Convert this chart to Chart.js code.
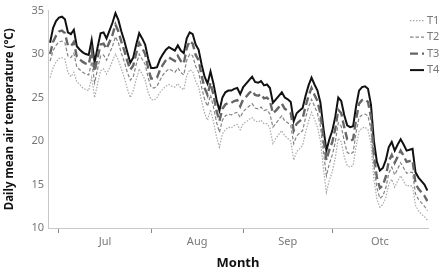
<!DOCTYPE html>
<html><head><meta charset="utf-8">
<script src="https://cdn.jsdelivr.net/npm/chart.js@4/dist/chart.umd.min.js"></script>
<style>html,body{margin:0;padding:0;background:#fff}#wrap{width:445px;height:271px;position:relative}</style>
</head><body><div id="wrap"><canvas id="c" width="445" height="271"></canvas></div>
<script>
const seriesNames = ['T1','T2','T3','T4'];
const T4 = [31.3,33.0,33.8,34.2,34.3,34.0,32.5,32.3,32.8,30.9,30.5,30.2,30.0,29.9,31.6,29.0,30.8,32.4,32.5,31.8,32.7,33.6,34.7,33.9,32.6,31.5,30.2,29.0,29.6,31.1,32.4,31.8,31.1,29.5,28.4,28.4,28.5,29.4,30.0,30.5,30.8,30.6,30.4,31.0,30.4,30.1,31.8,32.5,32.3,31.1,30.5,28.8,27.4,26.6,28.0,26.6,24.8,23.5,25.0,25.6,25.8,25.8,26.0,26.1,25.4,26.2,26.6,27.0,27.4,26.8,26.7,26.9,26.4,26.5,26.1,24.4,24.8,25.2,25.6,25.0,24.8,24.5,22.3,23.2,23.5,23.8,25.2,26.4,27.3,26.5,25.8,24.4,21.5,18.9,20.2,21.2,22.8,25.0,24.6,23.0,21.8,21.6,21.7,24.0,25.8,26.2,26.3,26.0,24.2,20.0,17.6,16.6,16.9,17.8,19.3,19.9,18.9,19.6,20.2,19.6,18.9,19.0,19.1,16.4,15.8,15.4,15.0,14.3];
const T3 = [30.0,31.4,32.1,32.6,32.7,32.4,31.0,30.9,31.4,29.7,29.4,29.1,28.9,28.8,30.4,28.0,29.6,31.1,31.2,30.6,31.4,32.2,33.4,32.6,31.4,30.4,29.2,28.2,28.7,30.1,31.3,30.7,30.0,28.4,27.2,27.2,27.3,28.2,28.8,29.3,29.6,29.4,29.2,29.8,29.2,28.9,30.7,31.5,31.2,29.9,29.3,27.5,26.1,25.3,26.7,25.3,23.5,22.3,23.7,24.2,24.4,24.4,24.6,24.7,24.0,24.8,25.1,25.5,25.8,25.3,25.2,25.4,24.9,25.0,24.6,23.2,23.5,23.9,24.3,23.7,23.5,23.2,21.2,22.0,22.3,22.6,24.0,25.2,26.1,25.3,24.6,23.1,20.3,17.8,19.0,19.9,21.4,23.6,23.2,21.6,20.2,20.0,20.2,22.5,24.3,24.7,24.8,24.5,22.8,18.4,15.8,14.6,14.9,15.9,17.7,18.4,17.5,18.2,18.9,18.3,17.6,17.7,17.8,15.1,14.5,14.1,13.7,13.1];
const T2 = [29.2,30.4,31.0,31.4,31.5,31.3,29.8,29.6,30.1,28.5,28.2,27.9,27.7,27.6,29.1,26.7,28.3,29.8,29.9,29.3,30.1,30.9,32.0,31.3,30.1,29.1,27.9,27.0,27.4,28.8,30.0,29.4,28.8,27.3,26.2,26.1,26.3,27.0,27.6,28.0,28.3,28.1,27.9,28.4,27.9,27.6,29.3,30.0,29.8,28.6,27.9,26.2,24.8,24.0,25.3,23.9,22.2,21.0,22.4,22.9,23.1,23.0,23.2,23.3,22.7,23.4,23.7,24.0,24.3,23.8,23.7,23.9,23.5,23.6,23.1,21.6,22.0,22.5,22.9,22.3,22.1,21.8,19.7,20.6,20.9,21.2,22.7,23.9,24.8,24.0,23.2,21.7,18.8,16.0,17.4,18.4,19.9,22.1,21.7,20.0,18.7,18.5,18.7,21.0,22.7,23.0,23.1,22.9,21.3,17.2,14.6,13.4,13.7,14.6,16.3,17.0,16.1,16.8,17.5,16.9,16.3,16.4,16.4,13.9,13.3,12.9,12.5,12.0];
const T1 = [27.3,28.4,29.1,29.5,29.6,29.4,27.9,27.4,27.9,26.8,26.5,26.1,25.9,25.8,27.3,25.0,26.6,28.1,28.3,27.7,28.4,29.2,30.0,29.3,28.3,27.3,26.0,25.0,25.8,27.1,28.3,27.7,27.0,25.6,24.8,24.7,25.0,25.6,26.0,26.3,26.5,26.3,26.2,26.6,26.1,25.9,27.5,28.2,28.0,26.9,26.2,24.6,23.2,22.4,23.6,22.2,20.5,19.3,20.8,21.3,21.6,21.5,21.8,21.9,21.3,22.0,22.2,22.5,22.7,22.3,22.2,22.4,22.0,22.0,21.5,19.7,20.3,20.8,21.2,20.6,20.3,20.0,17.8,18.8,19.1,19.5,21.0,22.3,23.3,22.5,21.6,20.0,16.8,14.1,15.5,16.5,18.1,20.3,19.9,18.2,17.2,17.0,17.2,19.4,21.1,21.5,21.6,21.3,19.7,15.6,13.3,12.4,12.7,13.5,15.0,15.6,14.7,15.4,16.0,15.4,14.8,14.9,14.8,12.6,12.0,11.6,11.3,10.9];
const monthLabels = ['Jul','Aug','Sep','Otc'];
const monthBoundaries = [3,34,65,95];
const monthCenters = [18.5,49.5,80,111];
const yTicks = [10,15,20,25,30,35];

const days = T4.map((_,i)=>i);
const toPts = arr => arr.map((v,i)=>({x:days[i], y:v}));
const styles = [
  {borderColor:'#a8a8a8', borderWidth:1.2, borderDash:[1.5,1.5]},
  {borderColor:'#858585', borderWidth:1.2, borderDash:[3.5,2]},
  {borderColor:'#666666', borderWidth:2.4, borderDash:[8,4]},
  {borderColor:'#111111', borderWidth:2, borderDash:[]}
];
const allSeries = [T1,T2,T3,T4];
const datasets = allSeries.map((s,k)=>Object.assign({label:seriesNames[k], data:toPts(s), pointRadius:0, tension:0, fill:false}, styles[k]));

const legendPlugin = {
  id:'customLegend',
  afterDraw(chart){
    const ctx = chart.ctx, ca = chart.chartArea;
    const x0 = ca.right - 18, y0 = ca.top + 10, step = 16.5;
    ctx.save();
    ctx.font = '11px "Noto Sans", sans-serif';
    ctx.textBaseline = 'middle';
    chart.data.datasets.forEach((ds,k)=>{
      const y = y0 + k*step;
      ctx.beginPath();
      ctx.strokeStyle = ds.borderColor;
      ctx.lineWidth = ds.borderWidth;
      ctx.setLineDash(ds.borderDash && ds.borderDash.length ? ds.borderDash : []);
      ctx.moveTo(x0, y); ctx.lineTo(x0+14, y); ctx.stroke();
      ctx.setLineDash([]);
      ctx.fillStyle = '#777';
      ctx.fillText(ds.label, x0+17, y);
    });
    ctx.restore();
  }
};

Chart.defaults.font.family = '"Noto Sans", sans-serif';
new Chart(document.getElementById('c'), {
  type:'line',
  data:{datasets},
  options:{
    responsive:false, animation:false,
    layout:{padding:{left:3,right:17,top:9,bottom:0}},
    plugins:{legend:{display:false}, tooltip:{enabled:false}},
    scales:{
      x:{
        type:'linear', min:-0.7, max:127.2,
        afterBuildTicks(scale){
          const t = [];
          monthBoundaries.forEach(v=>t.push({value:v}));
          monthCenters.forEach(v=>t.push({value:v}));
          t.sort((a,b)=>a.value-b.value);
          scale.ticks = t;
        },
        afterFit(scale){ scale.height = 43; },
        ticks:{autoSkip:false, maxRotation:0, padding:2, color:'#777', font:{size:11},
          callback(v){ const k = monthCenters.indexOf(v); return k>=0 ? monthLabels[k] : ''; }},
        grid:{display:true, drawOnChartArea:false, drawTicks:true, tickLength:5, tickWidth:1,
          tickColor(ctx){ return (ctx.tick && monthBoundaries.includes(ctx.tick.value)) ? '#888' : 'rgba(0,0,0,0)'; }},
        border:{display:true, color:'#c8c8c8', width:1},
        title:{display:true, text:'Month', color:'#111', font:{size:13, weight:'bold'}, padding:{top:0,bottom:0}}
      },
      y:{
        min:10, max:35,
        afterBuildTicks(scale){ scale.ticks = yTicks.map(v=>({value:v})); },
        afterFit(scale){ scale.width = 45; },
        ticks:{color:'#777', font:{size:11}, padding:4},
        grid:{display:false, drawTicks:false},
        border:{display:true, color:'#c8c8c8', width:1},
        title:{display:true, text:'Daily mean air temperature (°C)', color:'#111', font:{size:11.5, weight:'bold'}, padding:{top:0,bottom:0}}
      }
    }
  },
  plugins:[legendPlugin]
});
</script></body></html>
